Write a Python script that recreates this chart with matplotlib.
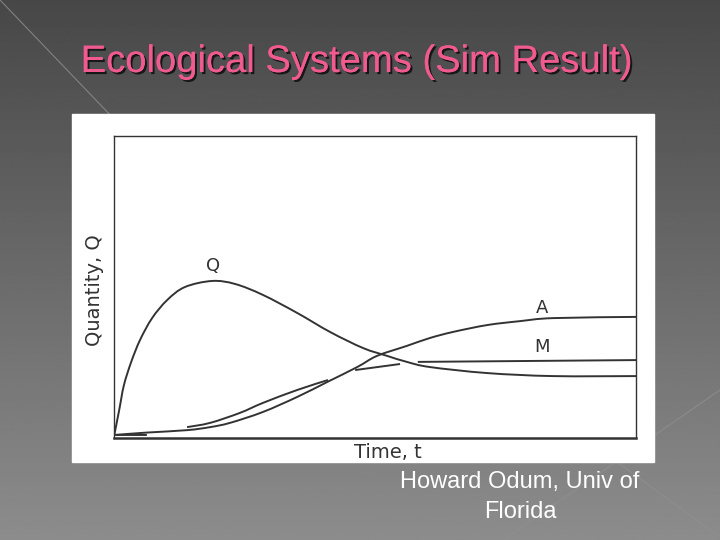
"""
Ecological systems simulation slide: Q, A and M against time.
"""

import numpy as np
import matplotlib

matplotlib.use("Agg")
import matplotlib.pyplot as plt
import matplotlib.patheffects as pe
from matplotlib.patches import Rectangle, PathPatch
from matplotlib.path import Path

# %%
# Curves (time and quantity in arbitrary units)

Q_T = [0.0, 0.10, 0.19, 0.33, 0.50, 0.73, 1.02, 1.36, 1.88, 2.32, 2.85, 3.51,
       4.14, 4.77, 5.23, 5.61, 6.05, 7.15, 8.41, 10.0]
Q_VAL = [0.05, 0.93, 1.75, 2.52, 3.25, 3.97, 4.57, 5.00, 5.20, 5.10, 4.74, 4.14,
         3.51, 2.98, 2.72, 2.52, 2.35, 2.15, 2.05, 2.05]

A_T = [0.0, 0.63, 1.40, 1.84, 2.22, 2.85, 3.51, 4.08, 4.66, 5.04, 5.61, 6.05,
       6.49, 7.15, 7.78, 8.41, 10.0]
A_VAL = [0.10, 0.18, 0.26, 0.36, 0.50, 0.86, 1.36, 1.85, 2.35, 2.72, 3.05, 3.31,
         3.51, 3.74, 3.87, 3.97, 4.01]

# M is drawn broken in the original; NaN separates the pieces
M_T = [0.04, 0.63, np.nan, 1.40, 1.84, 2.41, 2.85, 3.51, 4.10, np.nan,
       4.62, 5.48, np.nan, 5.82, 10.0]
M_VAL = [0.10, 0.10, np.nan, 0.36, 0.50, 0.83, 1.16, 1.59, 1.92, np.nan,
         2.25, 2.45, np.nan, 2.52, 2.58]

LABELS = {"Q": (1.9, 5.7), "A": (8.2, 4.3), "M": (8.2, 3.0)}

TITLE = "Ecological Systems (Sim Result)"
CAPTION = "Howard Odum, Univ of\nFlorida"

W, H = 720, 540
INK = "#333333"


def smooth_path(t, v):
    """Catmull-Rom curve through the points, as cubic Bezier path pieces."""
    t = np.asarray(t, float)
    v = np.asarray(v, float)
    ok = ~np.isnan(t)
    breaks = np.split(np.arange(len(t)), np.where(~ok)[0])
    verts, codes = [], []
    for idx in breaks:
        idx = idx[ok[idx]]
        if len(idx) < 2:
            continue
        p = np.column_stack([t[idx], v[idx]])
        verts.append(p[0])
        codes.append(Path.MOVETO)
        for i in range(len(p) - 1):
            p0 = p[i - 1] if i > 0 else p[i]
            p3 = p[i + 2] if i + 2 < len(p) else p[i + 1]
            c1 = p[i] + (p[i + 1] - p0) / 6.0
            c2 = p[i + 1] - (p3 - p[i]) / 6.0
            verts += [c1, c2, p[i + 1]]
            codes += [Path.CURVE4] * 3
    return Path(verts, codes)


def draw_background(fig):
    """Grey slide gradient with the theme's thin diagonal strokes."""
    bg = fig.add_axes([0, 0, 1, 1])
    grad = np.linspace(0.28, 0.55, 256)[:, None]
    bg.imshow(grad, cmap="gray", vmin=0, vmax=1, aspect="auto",
              extent=[0, W, H, 0])
    stroke = dict(color="#8f8f8f", lw=0.8, alpha=0.8)
    bg.plot([0, 160], [0, 167], **stroke)
    bg.plot([720, 503], [390, 540], **stroke)
    bg.plot([617, 720], [462, 537], **stroke)
    bg.add_patch(Rectangle((72, 114), 582, 348, color="white", zorder=3))
    bg.set_xlim(0, W)
    bg.set_ylim(H, 0)
    bg.axis("off")

    bg.text(357, 62, TITLE, ha="center", va="center", fontsize=27.5,
            family="Liberation Sans", color="#f05a8e", zorder=4,
            path_effects=[pe.withSimplePatchShadow(offset=(1.5, -1.5),
                                                   shadow_rgbFace="black",
                                                   alpha=0.7),
                          pe.Normal()])
    bg.text(520, 471, CAPTION, ha="center", va="top", fontsize=17,
            family="Liberation Sans", color="white", linespacing=1.45,
            zorder=4)


def draw_plot(fig):
    """The scanned Q/A/M time history."""
    ax = fig.add_axes([114 / W, 1 - 438 / H, 522 / W, 302 / H])
    ax.set_facecolor("none")
    for t, v in ((Q_T, Q_VAL), (A_T, A_VAL), (M_T, M_VAL)):
        ax.add_patch(PathPatch(smooth_path(t, v), facecolor="none",
                               edgecolor=INK, lw=1.4, capstyle="butt"))
    for name, (x, y) in LABELS.items():
        ax.text(x, y, name, ha="center", va="center", fontsize=13, color=INK)

    ax.set_xlim(0, 10)
    ax.set_ylim(0, 10)
    ax.set_xticks([])
    ax.set_yticks([])
    for side in ax.spines.values():
        side.set_color(INK)
        side.set_linewidth(1.0)
    ax.spines["bottom"].set_linewidth(1.8)
    ax.set_xlabel("Time, t", fontsize=14, color=INK)
    ax.xaxis.set_label_coords(274 / 522, -0.015)
    ax.set_ylabel("Quantity, Q", fontsize=14, color=INK)
    ax.yaxis.set_label_coords(-10 / 522, 148 / 302)


fig = plt.figure(figsize=(7.2, 5.4), dpi=100)
draw_background(fig)
draw_plot(fig)
fig.savefig("out.png", dpi=100)
